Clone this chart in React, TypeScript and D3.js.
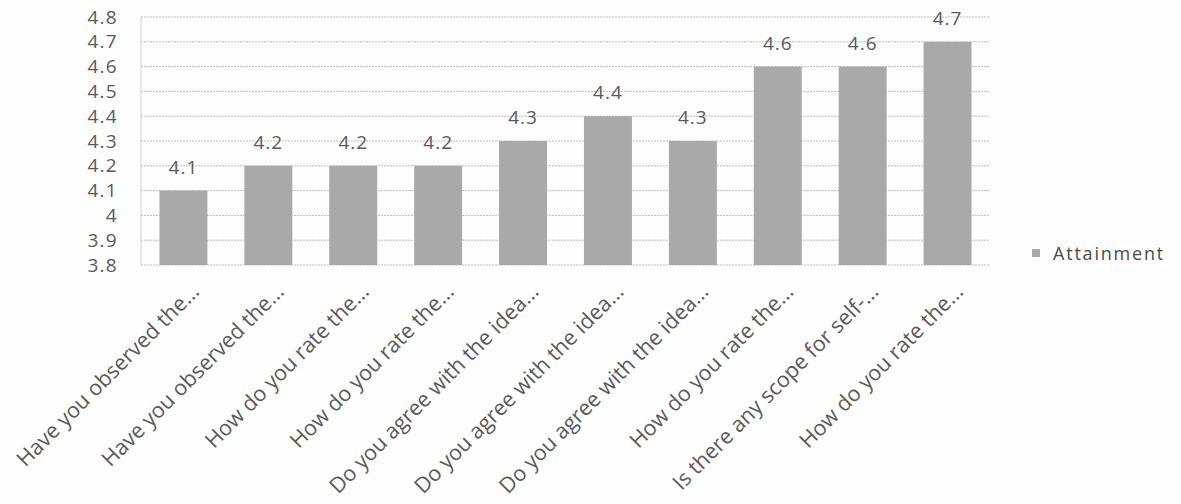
import React from "react";
import * as d3 from "d3";

const categories = [
  "Have you observed the...",
  "Have you observed the...",
  "How do you rate the...",
  "How do you rate the...",
  "Do you agree with the idea...",
  "Do you agree with the idea...",
  "Do you agree with the idea...",
  "How do you rate the...",
  "Is there any scope for self-...",
  "How do you rate the...",
];
const attainment = [4.1, 4.2, 4.2, 4.2, 4.3, 4.4, 4.3, 4.6, 4.6, 4.7];
const yTicks = [3.8, 3.9, 4.0, 4.1, 4.2, 4.3, 4.4, 4.5, 4.6, 4.7, 4.8];
const seriesName = "Attainment";

const W = 1181;
const H = 504;
const plot = { left: 141, right: 990, top: 17, bottom: 265 };
const FONT = "'Open Sans', 'Noto Sans', sans-serif";

export default function App() {
  const x = d3
    .scaleBand<number>()
    .domain(d3.range(categories.length))
    .range([plot.left, plot.right])
    .paddingInner(0.435)
    .paddingOuter(0.2175);
  const y = d3.scaleLinear().domain([3.8, 4.8]).range([plot.bottom, plot.top]);
  const fmt = (v: number) => (Math.abs(v - Math.round(v)) < 1e-9 ? String(Math.round(v)) : d3.format(".1f")(v));

  return (
    <svg
      width={W}
      height={H}
      style={{ position: "absolute", left: 0, top: 0, background: "#fff" }}
      fontFamily={FONT}
    >
      <rect x={0} y={0} width={W} height={H} fill="#fefefe" />
      {/* gridlines */}
      {yTicks.map((t, i) => (
        <line
          key={"g" + i}
          x1={plot.left}
          x2={plot.right}
          y1={y(t)}
          y2={y(t)}
          stroke="#bdbdbd"
          strokeWidth={1}
          strokeDasharray="2 1"
        />
      ))}
      {/* left axis line */}
      <line x1={plot.left} x2={plot.left} y1={plot.top} y2={plot.bottom} stroke="#cfcfcf" strokeWidth={1} />
      {/* y tick labels */}
      {yTicks.map((t, i) => (
        <text
          key={"yt" + i}
          x={plot.left - 23}
          y={y(t)}
          dy="0.35em"
          textAnchor="end"
          fontSize={19}
          letterSpacing={1.3}
          fill="#5a5a5a"
        >
          {fmt(t)}
        </text>
      ))}
      {/* bars */}
      {attainment.map((v, i) => (
        <rect
          key={"b" + i}
          x={x(i)!}
          y={y(v)}
          width={x.bandwidth()}
          height={plot.bottom - y(v)}
          fill="#a9a9a9"
        />
      ))}
      {/* data labels */}
      {attainment.map((v, i) => (
        <text
          key={"l" + i}
          x={x(i)! + x.bandwidth() / 2}
          y={y(v) - 17}
          textAnchor="middle"
          fontSize={19}
          letterSpacing={1}
          fill="#5a5a5a"
        >
          {fmt(v)}
        </text>
      ))}
      {/* x labels */}
      {categories.map((c, i) => {
        const cx = x(i)! + x.bandwidth() / 2 + 17;
        const cy = plot.bottom + 28;
        return (
          <text
            key={"x" + i}
            transform={`translate(${cx},${cy}) rotate(-45)`}
            textAnchor="end"
            fontSize={21.5}
            fill="#5a5a5a"
          >
            {c}
          </text>
        );
      })}
      {/* legend */}
      <rect x={1032} y={249} width={8} height={8} fill="#a9a9a9" />
      <text x={1053} y={254} dy="0.35em" fontSize={18} letterSpacing={1.8} fill="#4a4a4a">
        {seriesName}
      </text>
    </svg>
  );
}
